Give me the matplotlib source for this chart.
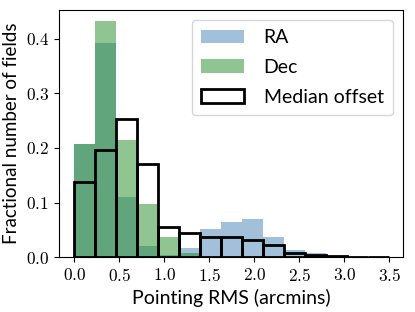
import numpy as np
import matplotlib
matplotlib.use("Agg")
import matplotlib.pyplot as plt
from matplotlib.ticker import FuncFormatter

bin_edges = np.linspace(0, 3.5, 16)
ra_frac = [0.208, 0.392, 0.111, 0.020, 0.003, 0.016, 0.052, 0.064, 0.070, 0.036, 0.013, 0.007, 0.002, 0.001, 0.001]
dec_frac = [0.208, 0.432, 0.215, 0.097, 0.036, 0.007, 0.0, 0.0, 0.0, 0.0, 0.0, 0.0, 0.0, 0.0, 0.0]
median_frac = [0.138, 0.196, 0.253, 0.170, 0.056, 0.045, 0.036, 0.037, 0.032, 0.022, 0.007, 0.003, 0.002, 0.001, 0.001]

plt.rcParams['mathtext.fontset'] = 'cm'
plt.rcParams['font.family'] = ['Lato', 'DejaVu Sans']

centers = 0.5 * (bin_edges[:-1] + bin_edges[1:])

fig, ax = plt.subplots(figsize=(4.15, 3.12), dpi=100)
ax.hist(centers, bins=bin_edges, weights=ra_frac, color='steelblue', alpha=0.5, label='RA')
ax.hist(centers, bins=bin_edges, weights=dec_frac, color='forestgreen', alpha=0.5, label='Dec')
ax.hist(centers, bins=bin_edges, weights=median_frac, histtype='bar', fill=False,
        edgecolor='black', lw=2, label='Median offset')

ax.set_xticks([0.0, 0.5, 1.0, 1.5, 2.0, 2.5, 3.0, 3.5])
ax.set_yticks([0.0, 0.1, 0.2, 0.3, 0.4])
fmt = FuncFormatter(lambda v, p: r'$%.1f$' % v)
ax.xaxis.set_major_formatter(fmt)
ax.yaxis.set_major_formatter(fmt)
ax.tick_params(labelsize=12.5)
ax.set_xlim(-0.17, 3.65)
ax.set_ylim(0, 0.453)
ax.set_xlabel('Pointing RMS (arcmins)', fontsize=14)
ax.set_ylabel('Fractional number of fields', fontsize=13.5)
ax.legend(fontsize=14, loc='upper right', handlelength=2.2, handletextpad=1.0,
          borderpad=0.5, labelspacing=0.65)

fig.subplots_adjust(left=0.142, right=0.971, top=0.968, bottom=0.176)
fig.savefig('out.png', dpi=100)
